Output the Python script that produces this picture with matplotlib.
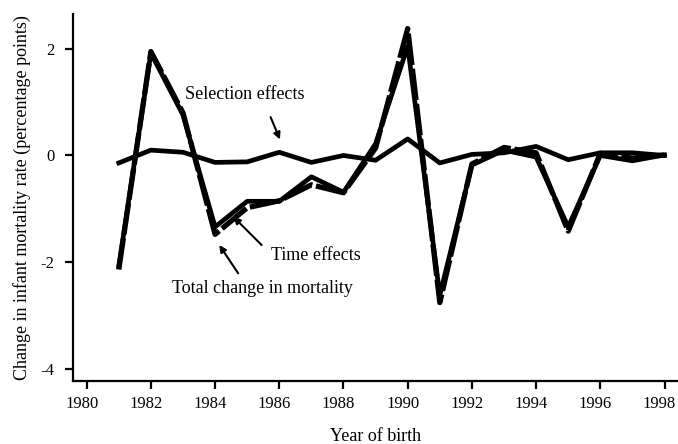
import matplotlib
matplotlib.use('Agg')
import matplotlib.pyplot as plt
import matplotlib.transforms as mtransforms

plt.rcParams['font.family'] = ['Liberation Serif', 'DejaVu Serif']
plt.rcParams['axes.unicode_minus'] = False

years = [1981, 1982, 1983, 1984, 1985, 1986, 1987, 1988, 1989,
         1990, 1991, 1992, 1993, 1994, 1995, 1996, 1997, 1998]
time_effects = [-2.08, 1.92, 0.76, -1.34, -0.86, -0.86, -0.40, -0.69, 0.22,
                2.05, -2.62, -0.18, 0.10, -0.03, -1.34, 0.00, -0.10, 0.01]
selection_effects = [-0.14, 0.10, 0.06, -0.13, -0.12, 0.06, -0.13, 0.00, -0.09,
                     0.31, -0.14, 0.02, 0.05, 0.17, -0.08, 0.05, 0.05, 0.00]
total_change = [-2.14, 1.95, 0.80, -1.48, -0.98, -0.85, -0.55, -0.70, 0.14,
                2.38, -2.76, -0.16, 0.15, 0.05, -1.42, 0.04, -0.05, 0.01]

xticks = [1980, 1982, 1984, 1986, 1988, 1990, 1992, 1994, 1996, 1998]
yticks = [-4, -2, 0, 2]
ytick_labels = ['-4', '-2', '0', '2']

fig = plt.figure(figsize=(6.78, 4.44), dpi=100)
ax = fig.add_axes([0.107, 0.142, 0.893, 0.826])

ax.plot(years, total_change, color='black', lw=3.8, linestyle=(0, (6, 0.7)))
ax.plot(years, time_effects, color='black', lw=3.4)
ax.plot(years, selection_effects, color='black', lw=3.4)

ax.set_xlim(1979.56, 1998.42)
ax.set_ylim(-4.23, 2.65)
ax.set_xticks(xticks)
ax.set_yticks(yticks)
ax.set_yticklabels(ytick_labels)

for side in ['top', 'right']:
    ax.spines[side].set_visible(False)
for side in ['left', 'bottom']:
    ax.spines[side].set_linewidth(1.6)
ax.tick_params(direction='out', length=6, width=1.6, labelsize=12)
ax.tick_params(axis='x', pad=5)
ax.tick_params(axis='y', pad=7)

# labels in the reference sit a little left of their ticks
shift = mtransforms.ScaledTranslation(-5 / 100, 0, fig.dpi_scale_trans)
for lab in ax.get_xticklabels():
    lab.set_transform(lab.get_transform() + shift)

ax.set_xlabel('Year of birth', fontsize=13, labelpad=11)
ax.set_ylabel('Change in infant mortality rate (percentage points)', fontsize=13, labelpad=7)

arrow = dict(arrowstyle='-|>', lw=1.5, color='black', mutation_scale=10, shrinkA=0, shrinkB=0)
ax.annotate('', xy=(1986.02, 0.30), xytext=(1985.73, 0.72), arrowprops=arrow)
ax.text(1984.92, 1.14, 'Selection effects', fontsize=13, ha='center', va='center')

ax.annotate('', xy=(1984.57, -1.15), xytext=(1985.45, -1.68), arrowprops=arrow)
ax.text(1987.14, -1.87, 'Time effects', fontsize=13, ha='center', va='center')

ax.annotate('', xy=(1984.13, -1.68), xytext=(1984.72, -2.21), arrowprops=arrow)
ax.text(1985.48, -2.49, 'Total change in mortality', fontsize=13, ha='center', va='center')

fig.savefig('out.png', dpi=100)
